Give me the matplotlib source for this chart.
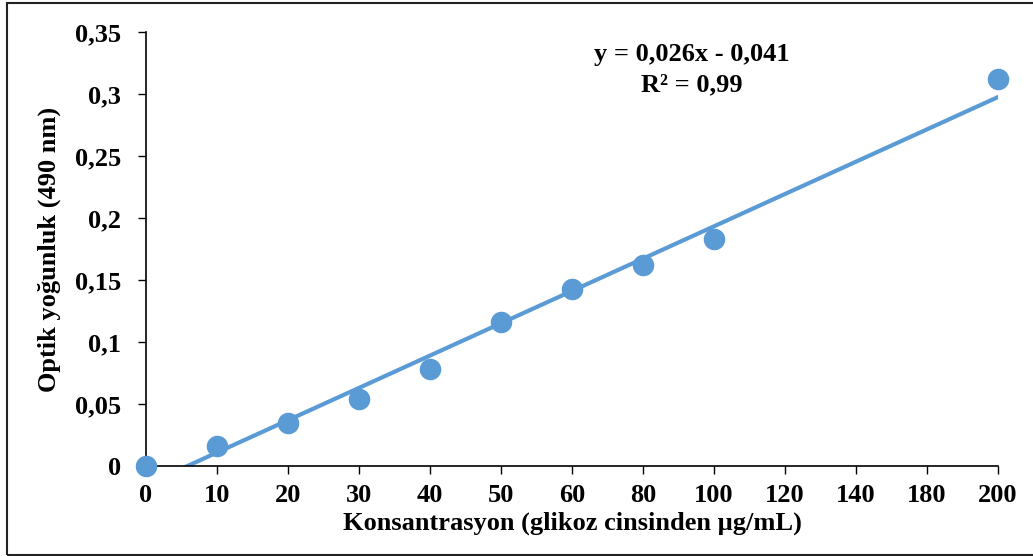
import matplotlib
matplotlib.use("Agg")
import matplotlib.pyplot as plt
import numpy as np
from matplotlib.patches import Rectangle

# Category labels on the x axis (Excel line chart, evenly spaced)
categories = ["0", "10", "20", "30", "40", "50", "60", "80", "100", "120", "140", "180", "200"]
# Measured optical density; None where no point was plotted
absorbance = [0.0, 0.016, 0.035, 0.054, 0.078, 0.116, 0.143, 0.162, 0.183, None, None, None, 0.312]
y_ticks = [0, 0.05, 0.1, 0.15, 0.2, 0.25, 0.3, 0.35]
y_tick_labels = ["0", "0,05", "0,1", "0,15", "0,2", "0,25", "0,3", "0,35"]

BLUE = "#5B9BD5"
FS = 19
plt.rcParams['font.family'] = ['Liberation Serif', 'DejaVu Serif']
plt.rcParams['font.weight'] = 'bold'

fig = plt.figure(figsize=(10.33, 5.56), dpi=100)
ax = fig.add_axes([146 / 1033, 90 / 556, 852 / 1033, 434 / 556])

pos = np.arange(len(categories))
ys = np.array([np.nan if v is None else v for v in absorbance])
mask = ~np.isnan(ys)

# linear trendline (Excel style, fitted on category index)
slope, intercept = np.polyfit(pos[mask] + 1, ys[mask], 1)
xfit = np.linspace(0, len(categories) - 1, 200)
ax.plot(xfit, slope * (xfit + 1) + intercept, color=BLUE, lw=3, zorder=2)

ax.plot(pos[mask], ys[mask], "o", color=BLUE, markersize=14.5, clip_on=False, zorder=3)

ax.set_xlim(0, len(categories) - 1)
ax.set_ylim(0, 0.35)
ax.set_xticks(pos)
ax.set_xticklabels(categories)
ax.set_yticks(y_ticks)
ax.set_yticklabels(y_tick_labels)
ax.tick_params(axis="x", direction="out", length=6, width=1, labelsize=FS, pad=7)
ax.tick_params(axis="y", direction="out", length=6, width=1, labelsize=FS, pad=12)
for side in ["top", "right"]:
    ax.spines[side].set_visible(False)
for side in ["left", "bottom"]:
    ax.spines[side].set_linewidth(1.2)

ax.set_xlabel("Konsantrasyon (glikoz cinsinden µg/mL)", fontsize=FS, fontweight="bold", labelpad=3)
ax.set_ylabel("Optik yoğunluk (490 nm)", fontsize=FS, fontweight="bold", labelpad=10)

fig.text(692 / 1033, 1 - 55 / 556, "y = 0,026x - 0,041", ha="center", va="center",
         fontsize=FS, fontweight="bold")
fig.text(692 / 1033, 1 - 85 / 556, "R² = 0,99", ha="center", va="center",
         fontsize=FS, fontweight="bold")

# outer chart frame
fig.patches.append(Rectangle((7 / 1033, 1 / 556), 1.1, 552 / 556, transform=fig.transFigure,
                             fill=False, edgecolor="#222222", lw=1.5))

fig.savefig("out.png", dpi=100)
